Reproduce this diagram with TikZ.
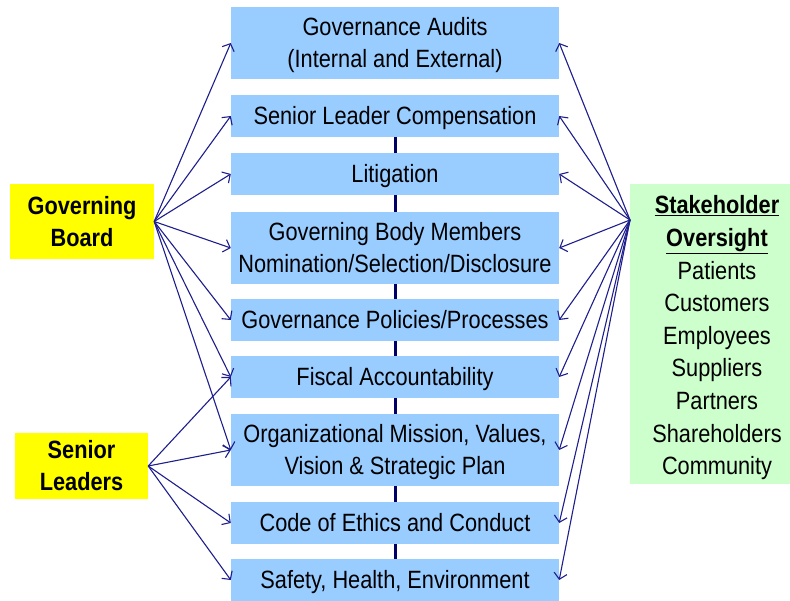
\documentclass[tikz,border=0pt]{standalone}
\usepackage{fontspec}
\setmainfont{Liberation Sans}[FakeStretch=0.87]
\usetikzlibrary{arrows.meta}
\definecolor{boxblue}{HTML}{99CCFF}
\definecolor{boxyellow}{HTML}{FFFF00}
\definecolor{boxgreen}{HTML}{CCFFCC}
\definecolor{arrowblue}{HTML}{1E1E8C}
\definecolor{spine}{HTML}{000066}
\newcommand\tstrut{\rule[-6pt]{0pt}{28.5pt}}
\begin{document}
\begin{tikzpicture}[x=1pt,y=-1pt,
  topic/.style={fill=boxblue, inner sep=0pt, minimum width=328pt, align=center,
    font=\fontsize{25}{32}\selectfont},
  one/.style={topic, minimum height=42pt},
  two/.style={topic, minimum height=72pt},
  actor/.style={fill=boxyellow, inner sep=0pt, align=center,
    font=\fontsize{25}{32}\selectfont\bfseries},
  link/.style={arrowblue, line width=1.1pt, -{Straight Barb[length=6pt,width=13pt]}},
  spineline/.style={spine, line width=3pt}]
\useasboundingbox (0,0) rectangle (790,601);

% centre column
\node[two] (b1) at (395,43)  {\tstrut Governance Audits\\\tstrut(Internal and External)};
\node[one] (b2) at (395,116) {\tstrut Senior Leader Compensation};
\node[one] (b3) at (395,174) {\tstrut Litigation};
\node[two] (b4) at (395,248) {\tstrut Governing Body Members\\\tstrut Nomination/Selection/Disclosure};
\node[one] (b5) at (395,320) {\tstrut Governance Policies/Processes};
\node[one] (b6) at (395,377) {\tstrut Fiscal Accountability};
\node[two] (b7) at (395,450) {\tstrut Organizational Mission, Values,\\\tstrut Vision \& Strategic Plan};
\node[one] (b8) at (395,523) {\tstrut Code of Ethics and Conduct};
\node[one] (b9) at (395,580) {\tstrut Safety, Health, Environment};

% spine
\foreach \a/\b in {b2/b3,b3/b4,b4/b5,b5/b6,b6/b7,b7/b8,b8/b9}
  \draw[spineline] (\a.south) -- (\b.north);

% left actors
\node[actor, minimum width=144pt, minimum height=75pt] (gb) at (82,221.5) {Governing\\Board};
\node[actor, minimum width=133pt, minimum height=66pt] (sl) at (81.5,466) {Senior\\Leaders};

% stakeholder box
\node[fill=boxgreen, minimum width=170pt, minimum height=300pt, inner sep=0pt] (so) at (715,334) {};
\node[align=center, inner sep=0pt, anchor=north, font=\fontsize{25}{32.6}\selectfont] (sotext) at (717,195.5)
  {\textbf{\underline{Stakeholder}}\\\textbf{\underline{Oversight}}\\Patients\\Customers\\Employees\\Suppliers\\Partners\\Shareholders\\Community};
\coordinate (soorig) at (630,220);

% arrows
\foreach \t in {b1,b2,b3,b4,b5,b6,b7}
  \draw[link] (gb.east) -- (\t.west);
\foreach \t in {b6,b7,b8,b9}
  \draw[link] (sl.east) -- (\t.west);
\foreach \t in {b1,b2,b3,b4,b5,b6,b7,b8,b9}
  \draw[link] (soorig) -- (\t.east);
\end{tikzpicture}
\end{document}
